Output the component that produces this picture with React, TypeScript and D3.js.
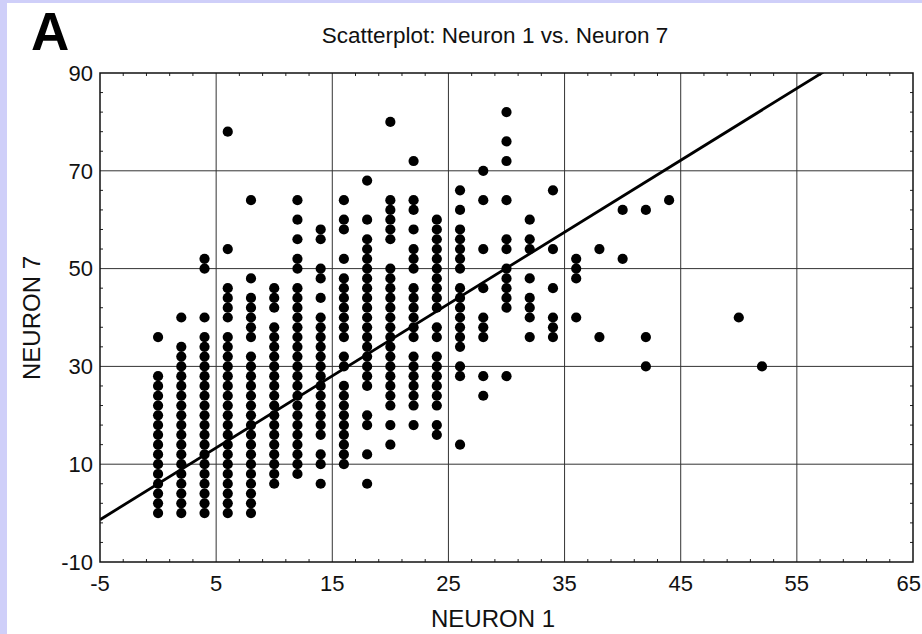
import React from "react";
import * as d3 from "d3";

// Neuron 1 firing levels (x) and the Neuron 7 values recorded at each level (y)
const neuron1: number[] = [0, 2, 4, 6, 8, 10, 12, 14, 16, 18, 20, 22, 24, 26, 28, 30, 32, 34, 36, 38, 40, 42, 44, 50, 52];

const neuron7: number[][] = [
  [0, 2, 4, 6, 8, 10, 12, 14, 16, 18, 20, 22, 24, 26, 28, 36],
  [0, 2, 4, 6, 8, 10, 12, 14, 16, 18, 20, 22, 24, 26, 28, 30, 32, 34, 40],
  [0, 2, 4, 6, 8, 10, 12, 14, 16, 18, 20, 22, 24, 26, 28, 30, 32, 34, 36, 40, 50, 52],
  [0, 2, 4, 6, 8, 10, 12, 14, 16, 18, 20, 22, 24, 26, 28, 30, 32, 34, 36, 40, 42, 44, 46, 54, 78],
  [0, 2, 4, 6, 8, 10, 12, 14, 16, 18, 20, 22, 24, 26, 28, 30, 32, 36, 38, 40, 42, 44, 48, 64],
  [6, 8, 10, 12, 14, 16, 18, 20, 22, 24, 26, 28, 30, 32, 34, 36, 38, 42, 44, 46],
  [8, 10, 12, 14, 16, 18, 20, 22, 24, 26, 28, 30, 32, 34, 36, 38, 40, 42, 44, 46, 50, 52, 56, 60, 64],
  [6, 10, 12, 16, 18, 20, 22, 24, 26, 28, 30, 32, 34, 36, 38, 40, 44, 48, 50, 56, 58],
  [10, 12, 14, 16, 18, 20, 22, 24, 26, 30, 32, 36, 38, 40, 42, 44, 46, 48, 52, 58, 60, 64],
  [6, 12, 18, 20, 26, 28, 30, 32, 34, 36, 38, 40, 42, 44, 46, 48, 50, 52, 54, 56, 60, 68],
  [14, 18, 22, 24, 26, 28, 30, 32, 34, 36, 38, 40, 42, 44, 46, 48, 50, 56, 58, 60, 62, 64, 80],
  [18, 22, 24, 26, 28, 30, 32, 36, 38, 40, 42, 44, 46, 50, 52, 54, 58, 62, 64, 72],
  [16, 18, 22, 24, 26, 28, 30, 32, 36, 38, 42, 44, 46, 48, 50, 52, 54, 56, 58, 60],
  [14, 28, 30, 34, 36, 38, 40, 42, 44, 46, 50, 52, 54, 56, 58, 62, 66],
  [24, 28, 36, 38, 40, 46, 54, 64, 70],
  [28, 42, 44, 46, 48, 50, 54, 56, 64, 72, 76, 82],
  [36, 40, 42, 44, 48, 54, 56, 60],
  [36, 38, 40, 46, 54, 66],
  [40, 48, 50, 52],
  [36, 54],
  [52, 62],
  [30, 36, 62],
  [64],
  [40],
  [30],
];

// Least-squares fit line: Neuron 7 = intercept + slope * Neuron 1
const fitIntercept = 6.0;
const fitSlope = 1.47;

const xTicks: number[] = [-5, 5, 15, 25, 35, 45, 55, 65];
const yTicks: number[] = [-10, 10, 30, 50, 70, 90];

const FONT = "'Liberation Sans', Arial, Helvetica, sans-serif";

export default function App() {
  const W = 922;
  const H = 634;

  const x = d3.scaleLinear().domain([-5, 65]).range([100, 913]);
  const y = d3.scaleLinear().domain([-10, 90]).range([562, 73]);

  const [x0, x1] = x.range();
  const [y0, y1] = y.range();

  const points = neuron1.flatMap((n1, i) => neuron7[i].map((n7) => ({ n1, n7 })));

  const fitPath = d3
    .line<number>()
    .x((d) => x(d))
    .y((d) => y(fitIntercept + fitSlope * d))(x.domain()) as string;

  const xMinor = d3.range(-5, 65.01, 2).filter((v) => !xTicks.includes(v));
  const yMinor = d3.range(-10, 90.01, 4).filter((v) => !yTicks.includes(v));

  const lastX = xTicks[xTicks.length - 1];

  return (
    <div style={{ position: "absolute", left: 0, top: 0 }}>
      <svg width={W} height={H} style={{ display: "block" }}>
        <defs>
          <clipPath id="plot-area">
            <rect x={x0} y={y1} width={x1 - x0} height={y0 - y1} />
          </clipPath>
        </defs>
        <rect x={0} y={0} width={W} height={H} fill="#cfcff9" />
        <rect x={7} y={3} width={W - 7} height={H - 3} fill="#ffffff" />

        {/* panel letter and title */}
        <text x={31} y={50} fontFamily={FONT} fontWeight="bold" fontSize={53} fill="#000">
          A
        </text>
        <text x={495} y={43} textAnchor="middle" fontFamily={FONT} fontSize={22.5} fill="#111">
          Scatterplot: Neuron 1 vs. Neuron 7
        </text>

        {/* grid */}
        <g stroke="#333" strokeWidth={1}>
          {xTicks.slice(1, -1).map((t) => (
            <line key={"gx" + t} x1={x(t)} x2={x(t)} y1={y1} y2={y0} />
          ))}
          {yTicks.slice(1, -1).map((t) => (
            <line key={"gy" + t} x1={x0} x2={x1} y1={y(t)} y2={y(t)} />
          ))}
        </g>

        {/* minor ticks on all four sides */}
        <g stroke="#222" strokeWidth={1}>
          {xMinor.map((t) => (
            <g key={"mx" + t}>
              <line x1={x(t)} x2={x(t)} y1={y0} y2={y0 - 3} />
              <line x1={x(t)} x2={x(t)} y1={y1} y2={y1 + 3} />
            </g>
          ))}
          {yMinor.map((t) => (
            <g key={"my" + t}>
              <line x1={x0} x2={x0 + 3} y1={y(t)} y2={y(t)} />
              <line x1={x1} x2={x1 - 3} y1={y(t)} y2={y(t)} />
            </g>
          ))}
        </g>

        {/* observations */}
        <g fill="#000">
          {points.map((p, i) => (
            <circle key={i} cx={x(p.n1)} cy={y(p.n7)} r={5.1} />
          ))}
        </g>

        {/* regression line */}
        <path d={fitPath} fill="none" stroke="#000" strokeWidth={2.8} clipPath="url(#plot-area)" />

        {/* frame */}
        <rect x={x0} y={y1} width={x1 - x0} height={y0 - y1} fill="none" stroke="#111" strokeWidth={1.5} />

        {/* tick labels */}
        <g fontFamily={FONT} fontSize={22} fill="#111">
          {yTicks.map((t) => (
            <text key={"ly" + t} x={x0 - 7} y={y(t)} dy="0.35em" textAnchor="end">
              {t}
            </text>
          ))}
          {xTicks.map((t) => (
            <text
              key={"lx" + t}
              x={t === lastX ? W - 1 : x(t)}
              y={591}
              textAnchor={t === lastX ? "end" : "middle"}
            >
              {t}
            </text>
          ))}
        </g>

        {/* axis titles */}
        <text x={493} y={627} textAnchor="middle" fontFamily={FONT} fontSize={24} fill="#111">
          NEURON 1
        </text>
        <text
          transform={`translate(40, 318) rotate(-90)`}
          textAnchor="middle"
          fontFamily={FONT}
          fontSize={24}
          fill="#111"
        >
          NEURON 7
        </text>
      </svg>
    </div>
  );
}
